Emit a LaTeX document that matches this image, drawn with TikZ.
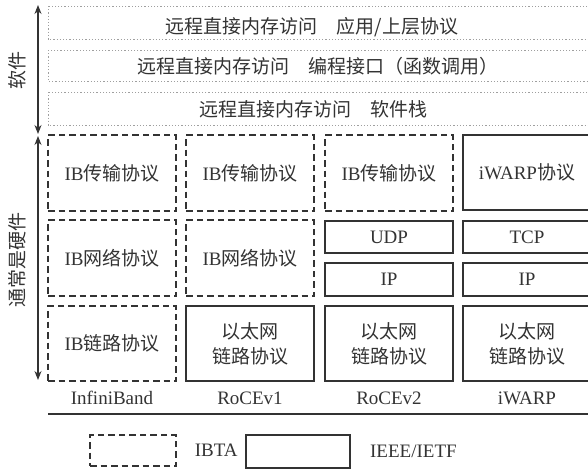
\documentclass[tikz,border=0pt]{standalone}
\usepackage{fontspec}
\setmainfont{Liberation Serif}
\newfontfamily\cjk{Noto Sans CJK SC}
\usetikzlibrary{arrows.meta}
\definecolor{inkgray}{HTML}{333333}
\tikzset{
  ibta/.style={draw=inkgray, line width=2.6pt, dash pattern=on 6.5pt off 4pt, inner sep=0pt},
  ietf/.style={draw=inkgray, line width=1.2pt, inner sep=0pt},
  swband/.style={draw=gray!75, line width=0.9pt, dash pattern=on 1.2pt off 2pt},
  lbl/.style={text=inkgray, font=\fontsize{19}{25}\selectfont, align=center},
  sidearrow/.style={draw=inkgray, line width=1.1pt, {Stealth[length=9pt,width=7pt]}-{Stealth[length=9pt,width=7pt]}}
}
\begin{document}
\begin{tikzpicture}[x=1pt,y=-1pt]
    \useasboundingbox (0,0) rectangle (588,469);
    % software bands
    \draw[swband] (48,6) rectangle (595,39);
    \node[lbl] (app) at (312,27) {\cjk 远程直接内存访问\quad 应用/上层协议};
    \draw[swband] (48,50) rectangle (595,81);
    \node[lbl] (api) at (318,66) {\cjk 远程直接内存访问\quad 编程接口（函数调用）};
    \draw[swband] (48,92) rectangle (595,125);
    \node[lbl] (stack) at (313,109) {\cjk 远程直接内存访问\quad 软件栈};
    % side arrows
    \coordinate (swTop) at (38,5);
    \coordinate (swBot) at (38,134);
    \coordinate (hwTop) at (38,136);
    \coordinate (hwBot) at (38,380);
    \draw[sidearrow] (swTop) -- (swBot);
    \draw[sidearrow] (hwTop) -- (hwBot);
    \node[lbl, rotate=90] (swLbl) at (17,70) {\cjk 软件};
    \node[lbl, rotate=90] (hwLbl) at (17,260) {\cjk 通常是硬件};
    % InfiniBand
    \node[ibta, lbl, minimum width=128pt, minimum height=76pt] (ibTrans) at (112,173) {IB{\cjk 传输协议}};
    \node[ibta, lbl, minimum width=128pt, minimum height=76pt] (ibNet) at (112,258) {IB{\cjk 网络协议}};
    \node[ibta, lbl, minimum width=128pt, minimum height=75pt] (ibLink) at (112,343.5) {IB{\cjk 链路协议}};
    % RoCEv1
    \node[ibta, lbl, minimum width=128pt, minimum height=76pt] (v1Trans) at (250,173) {IB{\cjk 传输协议}};
    \node[ibta, lbl, minimum width=128pt, minimum height=76pt] (v1Net) at (250,258) {IB{\cjk 网络协议}};
    \node[ietf, lbl, minimum width=128pt, minimum height=75pt] (v1Link) at (250,343.5) {\cjk 以太网\\\cjk 链路协议};
    % RoCEv2
    \node[ibta, lbl, minimum width=128pt, minimum height=76pt] (v2Trans) at (389,173) {IB{\cjk 传输协议}};
    \node[ietf, lbl, minimum width=128pt, minimum height=32pt] (v2Udp) at (389,237) {UDP};
    \node[ietf, lbl, minimum width=128pt, minimum height=33pt] (v2Ip) at (389,279.5) {IP};
    \node[ietf, lbl, minimum width=128pt, minimum height=75pt] (v2Link) at (389,343.5) {\cjk 以太网\\\cjk 链路协议};
    % iWARP
    \node[ietf, lbl, minimum width=128pt, minimum height=75pt] (iwTrans) at (527,172.5) {iWARP{\cjk 协议}};
    \node[ietf, lbl, minimum width=128pt, minimum height=32pt] (iwTcp) at (527,237) {TCP};
    \node[ietf, lbl, minimum width=128pt, minimum height=33pt] (iwIp) at (527,279.5) {IP};
    \node[ietf, lbl, minimum width=128pt, minimum height=75pt] (iwLink) at (527,343.5) {\cjk 以太网\\\cjk 链路协议};
    % stack names
    \node[lbl] (nIB) at (112,398) {InfiniBand};
    \node[lbl] (nV1) at (250,398) {RoCEv1};
    \node[lbl] (nV2) at (389,398) {RoCEv2};
    \node[lbl] (nIW) at (527,398) {iWARP};
    \draw[inkgray, line width=1.1pt] (48,414) -- (595,414);
    % legend
    \node[ibta, minimum width=86pt, minimum height=31pt] (keyIbta) at (133,450.5) {};
    \node[lbl, anchor=west] (txtIbta) at ([xshift=14pt]keyIbta.east) {IBTA};
    \node[ietf, minimum width=104pt, minimum height=33pt] (keyIetf) at (298,451.5) {};
    \node[lbl, anchor=west] (txtIetf) at ([xshift=16pt]keyIetf.east) {IEEE/IETF};
\end{tikzpicture}
\end{document}
